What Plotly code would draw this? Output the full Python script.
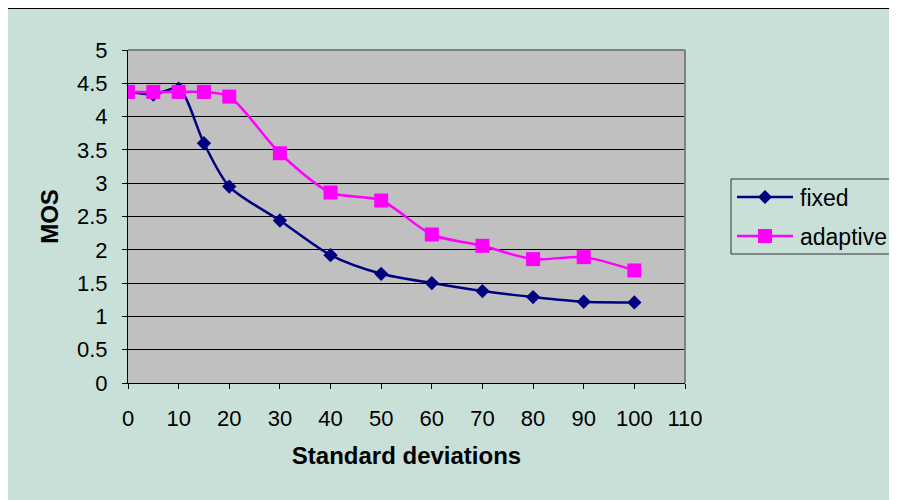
import plotly.graph_objects as go

x_vals = [0, 5, 10, 15, 20, 30, 40, 50, 60, 70, 80, 90, 100]
fixed = [4.38, 4.33, 4.42, 3.60, 2.95, 2.44, 1.92, 1.64, 1.50, 1.38, 1.29, 1.22, 1.21]
adaptive = [4.37, 4.37, 4.37, 4.37, 4.30, 3.45, 2.86, 2.74, 2.23, 2.06, 1.86, 1.89, 1.69]
x_ticks = list(range(0, 111, 10))
y_ticks = [0, 0.5, 1, 1.5, 2, 2.5, 3, 3.5, 4, 4.5, 5]
series_names = ["fixed", "adaptive"]
series_colors = ["#000080", "#FF00FF"]

BG = "#C9E0D9"
FONT = "Liberation Sans, Arial, sans-serif"

fig = go.Figure()
fig.add_trace(go.Scatter(
    x=x_vals, y=fixed, name=series_names[0], mode="lines+markers",
    line=dict(color=series_colors[0], width=2.5, shape="spline", smoothing=0.8),
    marker=dict(symbol="diamond", size=11, color=series_colors[0]),
))
fig.add_trace(go.Scatter(
    x=x_vals, y=adaptive, name=series_names[1], mode="lines+markers",
    line=dict(color=series_colors[1], width=2.5, shape="spline", smoothing=0.8),
    marker=dict(symbol="square", size=14, color=series_colors[1]),
))

OFF = 8  # page body margin
W, H = 897 - OFF, 500 - OFF
L, T = 128 - OFF, 50 - OFF
R = W - (685 - OFF)
B = H - (383 - OFF)
pw, ph = W - L - R, H - T - B

def px(xs):
    return (xs - OFF - L) / pw

def py(ys):
    return (H - B - (ys - OFF)) / ph

# custom legend (Excel style with long line samples)
leg_rows = [197, 236]
shapes = [
    dict(type="line", xref="paper", yref="paper",
         x0=px(7), x1=px(900), y0=py(8), y1=py(8),
         line=dict(color="#000000", width=2)),
    dict(type="line", xref="paper", yref="paper",
         x0=px(7), x1=px(7), y0=py(8), y1=py(505),
         line=dict(color="#000000", width=2)),
    dict(type="line", xref="paper", yref="paper",
         x0=0, x1=1, y0=1, y1=1, line=dict(color="#808080", width=2)),
    dict(type="line", xref="paper", yref="paper",
         x0=1, x1=1, y0=0, y1=1, line=dict(color="#808080", width=2)),
    dict(type="rect", xref="paper", yref="paper",
         x0=px(731), x1=px(895), y0=py(254), y1=py(179),
         line=dict(color="#333333", width=1), fillcolor=BG),
]
annotations = []
for i, (name, col) in enumerate(zip(series_names, series_colors)):
    yc = leg_rows[i]
    shapes.append(dict(type="line", xref="paper", yref="paper",
                       x0=px(737), x1=px(793), y0=py(yc), y1=py(yc),
                       line=dict(color=col, width=2.5)))
    if i == 0:
        d = 7
        path = (f"M {px(765 - d)},{py(yc)} L {px(765)},{py(yc - d)} "
                f"L {px(765 + d)},{py(yc)} L {px(765)},{py(yc + d)} Z")
        shapes.append(dict(type="path", xref="paper", yref="paper", path=path,
                           fillcolor=col, line=dict(color=col, width=0)))
    else:
        s = 7
        shapes.append(dict(type="rect", xref="paper", yref="paper",
                           x0=px(765 - s), x1=px(765 + s),
                           y0=py(yc + s), y1=py(yc - s),
                           fillcolor=col, line=dict(color=col, width=0)))
    annotations.append(dict(
        xref="paper", yref="paper", x=px(798), y=py(yc + 1),
        xanchor="left", yanchor="middle", showarrow=False, text=name,
        font=dict(family=FONT, size=23, color="#000000"),
    ))

fig.update_layout(
    width=W, height=H,
    margin=dict(l=L, r=R, t=T, b=B, pad=0),
    paper_bgcolor=BG,
    plot_bgcolor="#C0C0C0",
    font=dict(family=FONT, size=22, color="#000000"),
    showlegend=False,
    xaxis=dict(
        range=[0, 110], tickvals=x_ticks, ticktext=[str(v) for v in x_ticks],
        showgrid=False, zeroline=False,
        showline=True, linecolor="#000000", linewidth=1,
        ticks="outside", ticklen=5, tickcolor="#000000",
        ticklabelstandoff=11,
        tickfont=dict(family=FONT, size=22),
        title=dict(text="<b>Standard deviations</b>", standoff=16,
                   font=dict(family=FONT, size=24)),
    ),
    yaxis=dict(
        range=[0, 5], tickvals=y_ticks, ticktext=[f"{v:g}" for v in y_ticks],
        showgrid=True, gridcolor="#000000", gridwidth=1, zeroline=False,
        showline=True, linecolor="#000000", linewidth=1,
        ticks="outside", ticklen=5, tickcolor="#000000",
        ticklabelstandoff=10,
        tickfont=dict(family=FONT, size=22),
        title=dict(text="<b>MOS</b>", standoff=11,
                   font=dict(family=FONT, size=24)),
    ),
    shapes=shapes,
    annotations=annotations,
)

fig.write_html(
    "out.html",
    post_script="document.documentElement.style.overflow='hidden';",
)
